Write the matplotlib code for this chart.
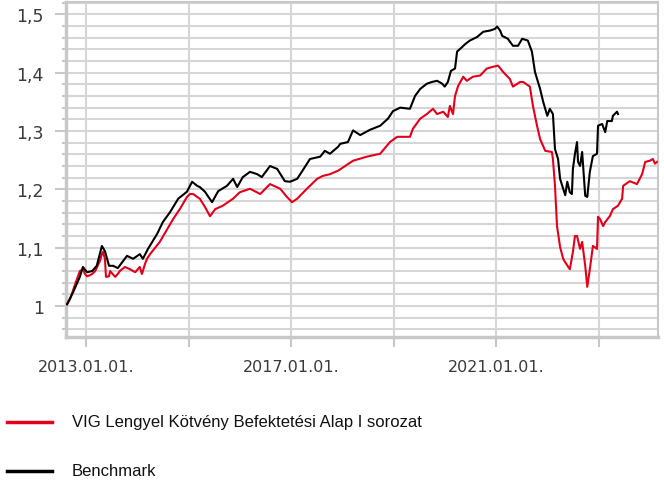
import matplotlib
matplotlib.use("Agg")
import matplotlib.pyplot as plt
from matplotlib import ticker
from matplotlib.lines import Line2D

# fund series (decimal year, indexed value)
fund_t = [2012.63, 2012.69, 2012.79, 2012.88, 2012.94, 2012.98, 2013.02, 2013.08, 2013.12, 2013.18,
          2013.27, 2013.31, 2013.33, 2013.37, 2013.39, 2013.45, 2013.47, 2013.57, 2013.62, 2013.66,
          2013.76, 2013.86, 2013.96, 2014.05, 2014.09, 2014.11, 2014.15, 2014.19, 2014.25, 2014.35,
          2014.44, 2014.54, 2014.64, 2014.70, 2014.83, 2014.97, 2015.03, 2015.09, 2015.17,
          2015.22, 2015.32, 2015.42, 2015.52, 2015.67, 2015.87, 2016.00, 2016.20, 2016.40, 2016.59,
          2016.79, 2016.92, 2017.02, 2017.12, 2017.31, 2017.51, 2017.62, 2017.76, 2017.92, 2018.21,
          2018.48, 2018.74, 2018.93, 2019.07, 2019.32, 2019.38, 2019.52, 2019.65, 2019.77, 2019.85,
          2019.97, 2020.06, 2020.10, 2020.16, 2020.20, 2020.26, 2020.36, 2020.43, 2020.55, 2020.69,
          2020.82, 2020.94, 2021.04, 2021.14, 2021.27, 2021.33, 2021.47, 2021.53, 2021.66, 2021.72,
          2021.80, 2021.86, 2021.96, 2022.09, 2022.11, 2022.15, 2022.19, 2022.25, 2022.31, 2022.35,
          2022.44, 2022.50, 2022.54, 2022.58, 2022.64, 2022.68, 2022.74, 2022.78, 2022.83, 2022.89,
          2022.97, 2022.99, 2023.03, 2023.09, 2023.13, 2023.22, 2023.28, 2023.38, 2023.46, 2023.48,
          2023.61, 2023.75, 2023.85, 2023.91, 2024.00, 2024.06, 2024.10, 2024.14]
fund_v = [1.003, 1.012, 1.038, 1.060, 1.063, 1.055, 1.051, 1.053, 1.055, 1.060,
          1.077, 1.089, 1.093, 1.081, 1.050, 1.051, 1.060, 1.050, 1.055, 1.060,
          1.067, 1.063, 1.058, 1.067, 1.055, 1.060, 1.072, 1.081, 1.089, 1.100,
          1.110, 1.125, 1.140, 1.149, 1.166, 1.187, 1.192, 1.192, 1.187,
          1.184, 1.170, 1.154, 1.166, 1.172, 1.184, 1.195, 1.201, 1.192, 1.209,
          1.201, 1.187, 1.178, 1.184, 1.201, 1.218, 1.223, 1.226, 1.232, 1.249,
          1.256, 1.261, 1.281, 1.290, 1.290, 1.304, 1.321, 1.329, 1.338, 1.329,
          1.333, 1.324, 1.343, 1.329, 1.360, 1.377, 1.393, 1.386, 1.393, 1.395,
          1.407, 1.410, 1.412, 1.401, 1.389, 1.376, 1.384, 1.384, 1.376, 1.343,
          1.309, 1.286, 1.266, 1.264, 1.252, 1.206, 1.137, 1.101, 1.081, 1.075,
          1.063, 1.093, 1.120, 1.120, 1.098, 1.110, 1.069, 1.033, 1.063, 1.103,
          1.098, 1.153, 1.149, 1.137, 1.144, 1.154, 1.166, 1.172, 1.184, 1.206,
          1.214, 1.209, 1.226, 1.247, 1.249, 1.252, 1.244, 1.247]

# benchmark series
bench_t = [2012.63, 2012.75, 2012.88, 2012.94, 2013.02, 2013.12, 2013.21, 2013.31, 2013.37, 2013.45,
           2013.53, 2013.62, 2013.80, 2013.92, 2014.05, 2014.11, 2014.21, 2014.39, 2014.50, 2014.64,
           2014.80, 2014.97, 2015.07, 2015.17, 2015.22, 2015.32, 2015.46, 2015.58, 2015.75, 2015.87,
           2015.95, 2016.06, 2016.20, 2016.34, 2016.43, 2016.59, 2016.73, 2016.88, 2016.98, 2017.12,
           2017.21, 2017.37, 2017.57, 2017.66, 2017.76, 2017.92, 2017.96, 2018.11, 2018.21, 2018.35,
           2018.54, 2018.74, 2018.89, 2018.99, 2019.13, 2019.32, 2019.42, 2019.52, 2019.65, 2019.75,
           2019.85, 2019.95, 2020.00, 2020.06, 2020.12, 2020.20, 2020.24, 2020.34, 2020.40, 2020.49,
           2020.63, 2020.75, 2020.88, 2020.98, 2021.02, 2021.08, 2021.12, 2021.23, 2021.33, 2021.43,
           2021.51, 2021.62, 2021.70, 2021.76, 2021.86, 2021.92, 2022.00, 2022.05, 2022.11, 2022.15,
           2022.21, 2022.25, 2022.31, 2022.35, 2022.39, 2022.44, 2022.48, 2022.50, 2022.54, 2022.58,
           2022.60, 2022.64, 2022.68, 2022.74, 2022.78, 2022.83, 2022.89, 2022.97, 2022.99, 2023.07,
           2023.13, 2023.17, 2023.26, 2023.28, 2023.36, 2023.38]
bench_v = [1.003, 1.024, 1.050, 1.067, 1.058, 1.060, 1.069, 1.103, 1.094, 1.069,
           1.069, 1.065, 1.086, 1.081, 1.089, 1.081, 1.098, 1.124, 1.144, 1.161,
           1.184, 1.196, 1.213, 1.206, 1.204, 1.196, 1.178, 1.197, 1.206, 1.218,
           1.204, 1.221, 1.230, 1.226, 1.221, 1.240, 1.235, 1.214, 1.213, 1.218,
           1.230, 1.252, 1.256, 1.266, 1.261, 1.273, 1.278, 1.281, 1.301, 1.293,
           1.302, 1.309, 1.321, 1.334, 1.340, 1.338, 1.360, 1.372, 1.381, 1.384,
           1.386, 1.381, 1.376, 1.384, 1.403, 1.407, 1.436, 1.444, 1.449, 1.455,
           1.461, 1.470, 1.472, 1.475, 1.479, 1.472, 1.463, 1.458, 1.446, 1.446,
           1.458, 1.455, 1.436, 1.401, 1.372, 1.350, 1.326, 1.338, 1.329, 1.269,
           1.252, 1.218, 1.201, 1.190, 1.213, 1.195, 1.192, 1.235, 1.261, 1.281,
           1.247, 1.240, 1.264, 1.189, 1.187, 1.230, 1.257, 1.261, 1.309, 1.312,
           1.298, 1.317, 1.317, 1.326, 1.333, 1.329]

x_ticks = [2013, 2015, 2017, 2019, 2021, 2023]
x_labels = ["2013.01.01.", "", "2017.01.01.", "", "2021.01.01.", ""]
y_ticks = [1.0, 1.1, 1.2, 1.3, 1.4, 1.5]
series_names = ["VIG Lengyel Kötvény Befektetési Alap I sorozat", "Benchmark"]

grid_col = "#d6d6d6"
text_col = "#3a3a3a"

fig = plt.figure(figsize=(6.64, 4.85), dpi=100)
ax = fig.add_axes([66 / 664, 1 - 338 / 485, 592 / 664, 335 / 485])

ax.plot(fund_t, fund_v, color="#e3001b", lw=1.5, zorder=3)
ax.plot(bench_t, bench_v, color="black", lw=1.5, zorder=4)

ax.set_xlim(2012.61, 2024.16)
ax.set_ylim(0.947, 1.521)

ax.set_xticks(x_ticks)
ax.set_xticklabels(x_labels)
ax.set_yticks(y_ticks)
ax.yaxis.set_minor_locator(ticker.MultipleLocator(0.02))
ax.yaxis.set_major_formatter(ticker.FuncFormatter(lambda v, p: f"{v:g}".replace(".", ",")))

ax.grid(axis="x", which="major", color=grid_col, lw=1.5)
ax.grid(axis="y", which="both", color=grid_col, lw=1.5)
ax.set_axisbelow(True)

for s in ax.spines.values():
    s.set_color("#c8c8c8")
    s.set_linewidth(1.5)
ax.spines["left"].set_linewidth(2.5)
ax.spines["bottom"].set_linewidth(2.5)

ax.tick_params(axis="y", which="major", length=8, width=1.5, color="#c8c8c8",
               pad=8, labelsize=12.5, labelcolor=text_col)
ax.tick_params(axis="y", which="minor", length=3, width=1.5, color="#c8c8c8")
ax.tick_params(axis="x", which="major", length=7, width=1.5, color="#c8c8c8",
               pad=9, labelsize=11.5, labelcolor=text_col)

# legend drawn below the plot
leg_cols = ["#e3001b", "black"]
leg_y = [1 - 423 / 485, 1 - 472 / 485]
for col, yy, name in zip(leg_cols, leg_y, series_names):
    fig.add_artist(Line2D([7 / 664, 52 / 664], [yy, yy], color=col, lw=2.5,
                          transform=fig.transFigure))
    fig.text(72 / 664, yy, name, fontsize=12, family="Liberation Sans",
             color="#111111", va="center", ha="left")

plt.savefig("out.png", dpi=100)
plt.close()
